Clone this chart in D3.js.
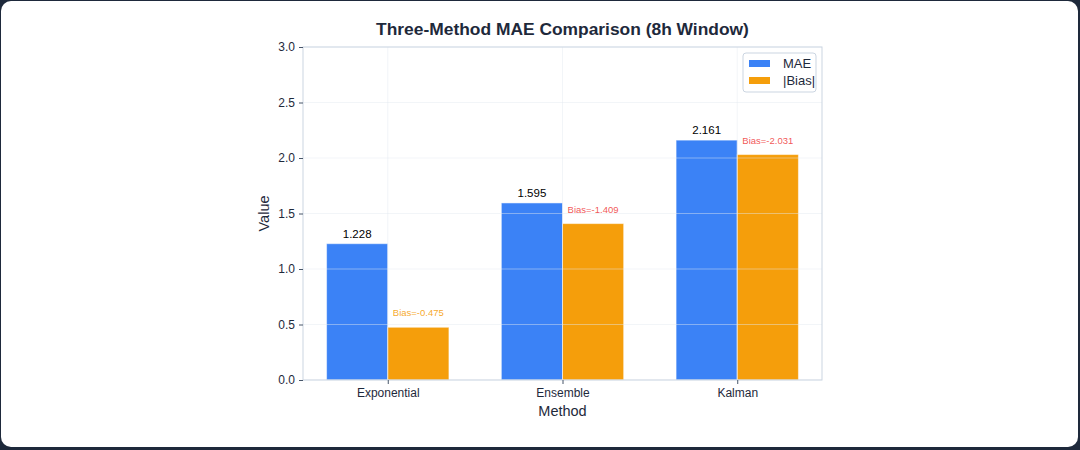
<!DOCTYPE html>
<html>
<head>
<meta charset="utf-8">
<script src="https://cdn.jsdelivr.net/npm/d3@7"></script>
<style>
  html, body { margin: 0; padding: 0; background: #1e293b; }
  #card {
    position: absolute; left: 1px; top: 1px; width: 1077px; height: 446px;
    background: #ffffff; border-radius: 10px; overflow: hidden;
  }
  svg { font-family: "Liberation Sans", Arial, sans-serif; }
</style>
</head>
<body>
<div id="card"></div>
<script>
// chart data
var methods = ["Exponential", "Ensemble", "Kalman"];
var maeValues = [1.228, 1.595, 2.161];
var biasValues = [-0.475, -1.409, -2.031];
var yTicks = [0.0, 0.5, 1.0, 1.5, 2.0, 2.5, 3.0];
var seriesNames = ["MAE", "|Bias|"];

var blue = "#3b82f6", orange = "#f59e0b";

var width = 1077, height = 446;
var margin = { left: 302, right: 256, top: 46, bottom: 67 };
var plotW = width - margin.left - margin.right;
var plotH = height - margin.top - margin.bottom;
var barW = 0.35;

var svg = d3.select("#card").append("svg")
    .attr("width", width)
    .attr("height", height);

// x in "category units", like matplotlib bar positions
var x = d3.scaleLinear().domain([-0.485, 2.485]).range([0, plotW]);
var y = d3.scaleLinear().domain([0, 3]).range([plotH, 0]);

var g = svg.append("g").attr("transform", "translate(" + margin.left + "," + margin.top + ")");

// bars
g.selectAll("rect.mae").data(maeValues).enter().append("rect")
    .attr("class", "mae")
    .attr("x", function(d, i) { return x(i - barW); })
    .attr("width", x(barW) - x(0))
    .attr("y", function(d) { return y(d); })
    .attr("height", function(d) { return y(0) - y(d); })
    .attr("fill", blue)
    .attr("stroke", "rgba(255,255,255,0.5)")
    .attr("stroke-width", 1);

g.selectAll("rect.bias").data(biasValues).enter().append("rect")
    .attr("class", "bias")
    .attr("x", function(d, i) { return x(i); })
    .attr("width", x(barW) - x(0))
    .attr("y", function(d) { return y(Math.abs(d)); })
    .attr("height", function(d) { return y(0) - y(Math.abs(d)); })
    .attr("fill", orange)
    .attr("stroke", "rgba(255,255,255,0.5)")
    .attr("stroke-width", 1);

// grid on top of the bars
var grid = g.append("g").attr("class", "grid");
grid.selectAll("line.gy").data(yTicks).enter().append("line")
    .attr("x1", 0).attr("x2", plotW)
    .attr("y1", function(d) { return y(d); })
    .attr("y2", function(d) { return y(d); })
    .attr("stroke", "#e2e8f0").attr("stroke-opacity", 0.45).attr("stroke-width", 1);
grid.selectAll("line.gx").data(methods).enter().append("line")
    .attr("y1", 0).attr("y2", plotH)
    .attr("x1", function(d, i) { return x(i); })
    .attr("x2", function(d, i) { return x(i); })
    .attr("stroke", "#e2e8f0").attr("stroke-opacity", 0.45).attr("stroke-width", 1);

// frame
g.append("rect")
    .attr("x", 0).attr("y", 0).attr("width", plotW).attr("height", plotH)
    .attr("fill", "none").attr("stroke", "#cbd5e1").attr("stroke-width", 1);

// axes
var yAxis = d3.axisLeft(y).tickValues(yTicks).tickFormat(d3.format(".1f")).tickSize(4).tickPadding(4);
var xAxis = d3.axisBottom(x).tickValues([0, 1, 2]).tickFormat(function(d) { return methods[d]; }).tickSize(4).tickPadding(4);

var ya = g.append("g").call(yAxis);
var xa = g.append("g").attr("transform", "translate(0," + plotH + ")").call(xAxis);
[ya, xa].forEach(function(a) {
    a.select(".domain").remove();
    a.selectAll(".tick line").attr("stroke", "#475569");
    a.selectAll(".tick text").attr("fill", "#1e293b").style("font-size", "12px");
});

// value labels
g.selectAll("text.maeLabel").data(maeValues).enter().append("text")
    .attr("x", function(d, i) { return x(i - barW / 2); })
    .attr("y", function(d) { return y(d) - 6; })
    .attr("text-anchor", "middle")
    .style("font-size", "11.5px")
    .attr("fill", "#000")
    .text(function(d) { return d.toFixed(3); });

g.selectAll("text.biasLabel").data(biasValues).enter().append("text")
    .attr("x", function(d, i) { return x(i + barW / 2); })
    .attr("y", function(d) { return y(Math.abs(d)) - 11; })
    .attr("text-anchor", "middle")
    .style("font-size", "9.5px")
    .attr("fill", function(d) { return Math.abs(d) > 1 ? "#ef4444" : orange; })
    .attr("fill-opacity", 0.9)
    .text(function(d) { return "Bias=" + d.toFixed(3); });

// title and axis labels
svg.append("text")
    .attr("x", margin.left + plotW / 2).attr("y", 34)
    .attr("text-anchor", "middle")
    .style("font-size", "17.4px").style("font-weight", "bold")
    .attr("fill", "#1e293b")
    .text("Three-Method MAE Comparison (8h Window)");

svg.append("text")
    .attr("x", margin.left + plotW / 2).attr("y", 415)
    .attr("text-anchor", "middle")
    .style("font-size", "14.5px")
    .attr("fill", "#1e293b")
    .text("Method");

svg.append("text")
    .attr("transform", "translate(268," + (margin.top + plotH / 2) + ") rotate(-90)")
    .attr("text-anchor", "middle")
    .style("font-size", "14.5px")
    .attr("fill", "#1e293b")
    .text("Value");

// legend
var leg = g.append("g").attr("transform", "translate(" + (plotW - 79) + ",6)");
leg.append("rect")
    .attr("width", 73).attr("height", 39).attr("rx", 3)
    .attr("fill", "#fff").attr("fill-opacity", 0.9)
    .attr("stroke", "#cbd5e1");
seriesNames.forEach(function(name, i) {
    leg.append("rect")
        .attr("x", 6).attr("y", 7 + i * 17)
        .attr("width", 21).attr("height", 7)
        .attr("fill", i === 0 ? blue : orange);
    leg.append("text")
        .attr("x", 40).attr("y", 15 + i * 17)
        .style("font-size", "13px")
        .attr("fill", "#1e293b")
        .text(name);
});
</script>
</body>
</html>
